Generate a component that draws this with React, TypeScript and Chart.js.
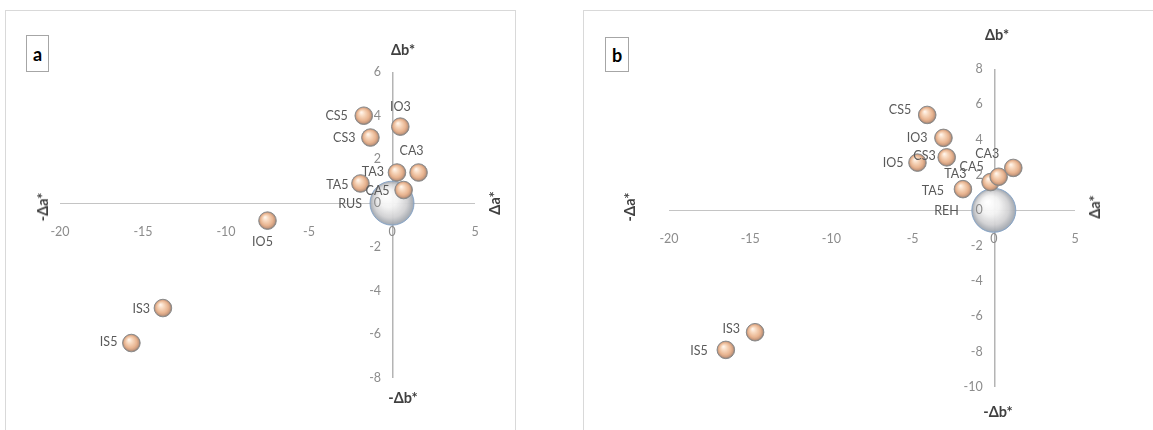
import React, { useEffect, useRef } from "react";
import { Chart, registerables } from "chart.js";
Chart.register(...registerables);

// ---------- DATA ----------
const samplesA = ["CS5", "IO3", "CS3", "TA3", "CA3", "TA5", "CA5", "IO5", "IS3", "IS5"];
const deltaA_a = [-1.7, 0.5, -1.3, 0.3, 1.6, -1.9, 0.7, -7.5, -13.8, -15.7];
const deltaB_a = [4.0, 3.5, 3.0, 1.4, 1.4, 0.9, 0.6, -0.8, -4.8, -6.4];
const referenceA = "RUS";

const samplesB = ["CS5", "IO3", "CS3", "IO5", "TA5", "TA3", "CA5", "CA3", "IS3", "IS5"];
const deltaA_b = [-4.1, -3.1, -2.9, -4.7, -1.9, -0.2, 0.3, 1.2, -14.7, -16.5];
const deltaB_b = [5.4, 4.1, 3.0, 2.7, 1.2, 1.6, 1.9, 2.4, -6.9, -7.9];
const referenceB = "REH";

const xTicks = [-20, -15, -10, -5, 0, 5];
const yTicksA = [-8, -6, -4, -2, 0, 2, 4, 6];
const yTicksB = [-10, -8, -6, -4, -2, 0, 2, 4, 6, 8];

// ---------- STYLE / PLACEMENT ----------
type Place = [number, number, CanvasTextAlign];
const placeA: Record<string, Place> = {
  CS5: [-16, 0, "right"], IO3: [0, -20, "center"], CS3: [-15, 0, "right"],
  TA3: [-13, -1, "right"], CA3: [-7, -22, "center"], TA5: [-12, 1, "right"],
  CA5: [-14, 1, "right"], IO5: [-5, 21, "center"], IS3: [-13, 1, "right"],
  IS5: [-14, -1, "right"], RUS: [-30, 1, "right"],
};
const placeB: Record<string, Place> = {
  CS5: [-16, -5, "right"], IO3: [-16, 0, "right"], CS3: [-11, -1, "right"],
  IO5: [-14, 0, "right"], TA5: [-19, 2, "right"], TA3: [-24, -8, "right"],
  CA5: [-15, -10, "right"], CA3: [-14, -14, "right"], IS3: [-15, -3, "right"],
  IS5: [-18, 1, "right"], REH: [-35, 1, "right"],
};

const FONT = "Lato, 'Open Sans', sans-serif";
const SAMPLE_R = 8.8;
const REF_R = 22;
const AXIS_COLOR = "#c4c4c4";
const VAXIS_COLOR = "#b4b4b4";

function sphere(ctx: any, x: number, y: number, r: number, stops: [number, string][]) {
  const g = ctx.createRadialGradient(x - r * 0.28, y - r * 0.38, r * 0.05, x, y, r);
  stops.forEach(([o, c]) => g.addColorStop(o, c));
  return g;
}

const peachStops: [number, string][] = [
  [0, "#fff4ea"], [0.3, "#f7d7bd"], [0.68, "#e8b490"], [0.86, "#c99b7f"], [1, "#857a74"],
];
const greyStops: [number, string][] = [
  [0, "rgba(255,255,255,0.98)"], [0.4, "rgba(242,242,242,0.96)"], [0.75, "rgba(208,208,210,0.95)"], [0.93, "rgba(170,174,180,0.95)"], [1, "rgba(150,165,182,0.95)"],
];

function gradientFor(stops: [number, string][], fallback: string) {
  return (c: any) => {
    const chart = c.chart;
    const raw = c.raw;
    if (!raw || !chart.chartArea || !chart.scales.x) return fallback;
    const x = chart.scales.x.getPixelForValue(raw.x);
    const y = chart.scales.y.getPixelForValue(raw.y);
    const r = c.dataset.radius;
    return sphere(chart.ctx, x, y, r, stops);
  };
}

interface PanelProps {
  names: string[];
  da: number[];
  db: number[];
  refName: string;
  yTicks: number[];
  place: Record<string, Place>;
  width: number;
  height: number;
  padding: { left: number; right: number; top: number; bottom: number };
  labelGapUnits: number;
}

function Panel(p: PanelProps) {
  const ref = useRef<HTMLCanvasElement>(null);
  useEffect(() => {
    if (!ref.current) return;
    const axesPlugin = {
      id: "crossAxes",
      beforeDatasetsDraw(chart: any) {
        const { ctx, chartArea, scales } = chart;
        const x0 = Math.round(scales.x.getPixelForValue(0));
        const y0 = Math.round(scales.y.getPixelForValue(0));
        ctx.save();
        ctx.fillStyle = AXIS_COLOR;
        ctx.fillRect(chartArea.left, y0, chartArea.right - chartArea.left, 1);
        ctx.fillStyle = VAXIS_COLOR;
        ctx.fillRect(x0, chartArea.top, 1.5, chartArea.bottom - chartArea.top);
        ctx.restore();
      },
    };
    const labelPlugin = {
      id: "pointNames",
      afterDatasetsDraw(chart: any) {
        const ctx = chart.ctx;
        ctx.save();
        ctx.font = `12.5px ${FONT}`;
        ctx.fillStyle = "#595959";
        ctx.textBaseline = "middle";
        chart.data.datasets.forEach((ds: any, di: number) => {
          const meta = chart.getDatasetMeta(di);
          meta.data.forEach((el: any, i: number) => {
            const name = ds.names[i];
            const pl = p.place[name] || [-14, 0, "right"];
            ctx.textAlign = pl[2];
            ctx.fillText(name, el.x + pl[0], el.y + pl[1]);
          });
        });
        ctx.restore();
      },
    };
    const tickFont = { family: FONT, size: 12.5 };
    const chart = new Chart(ref.current, {
      type: "bubble",
      data: {
        datasets: [
          {
            label: "samples",
            names: p.names,
            data: p.names.map((_, i) => ({ x: p.da[i], y: p.db[i] })),
            radius: SAMPLE_R,
            backgroundColor: gradientFor(peachStops, "#eec3a3"),
            borderColor: "#8a8a8a",
            borderWidth: 1,
            clip: false,
          } as any,
          {
            label: "reference",
            names: [p.refName],
            data: [{ x: 0, y: 0 }],
            radius: REF_R,
            backgroundColor: gradientFor(greyStops, "#e0e0e0"),
            borderColor: "rgba(130,160,195,0.9)",
            borderWidth: 1,
            clip: false,
          } as any,
        ],
      },
      options: {
        animation: false,
        responsive: false,
        maintainAspectRatio: false,
        events: [],
        layout: { padding: p.padding },
        plugins: { legend: { display: false }, tooltip: { enabled: false } },
        scales: {
          x: {
            type: "linear",
            position: { y: 0 } as any,
            min: xTicks[0],
            max: xTicks[xTicks.length - 1],
            afterBuildTicks: (s: any) => { s.ticks = xTicks.map((v) => ({ value: v })); },
            afterFit: (s: any) => { s.height = 0; },
            grid: { display: false },
            border: { display: false },
            ticks: { font: tickFont, color: "#8c8c8c", padding: 13, z: 1, maxRotation: 0, autoSkip: false },
          },
          y: {
            type: "linear",
            position: { x: 0 } as any,
            min: p.yTicks[0],
            max: p.yTicks[p.yTicks.length - 1],
            afterFit: (s: any) => { s.width = 0; },
            grid: { display: false },
            border: { display: false },
            ticks: { display: false },
          },
          yLabels: {
            type: "linear",
            axis: "y",
            position: { x: -p.labelGapUnits } as any,
            min: p.yTicks[0],
            max: p.yTicks[p.yTicks.length - 1],
            afterBuildTicks: (s: any) => { s.ticks = p.yTicks.map((v) => ({ value: v })); },
            afterFit: (s: any) => { s.width = 0; },
            grid: { display: false },
            border: { display: false },
            ticks: { font: tickFont, color: "#8c8c8c", z: 1, autoSkip: false },
          } as any,
        },
      } as any,
      plugins: [axesPlugin, labelPlugin],
    });
    return () => chart.destroy();
  }, []);
  return <canvas ref={ref} width={p.width} height={p.height} style={{ width: p.width, height: p.height, display: "block" }} />;
}

const titleStyle: React.CSSProperties = {
  position: "absolute",
  fontFamily: FONT,
  fontWeight: 700,
  fontSize: 14.5,
  color: "#404040",
  whiteSpace: "nowrap",
  lineHeight: "16px",
};

function Title({ text, x, y, rotate }: { text: string; x: number; y: number; rotate?: boolean }) {
  return (
    <div style={{ ...titleStyle, left: x, top: y, transform: `translate(-50%, -50%)${rotate ? " rotate(-90deg)" : ""}` }}>
      {text}
    </div>
  );
}

function LetterBox({ text, x, y, w, h }: { text: string; x: number; y: number; w: number; h: number }) {
  return (
    <div
      style={{
        position: "absolute", left: x, top: y, width: w, height: h, boxSizing: "border-box",
        border: "1px solid #a6a6a6", display: "flex", alignItems: "center", justifyContent: "center",
        fontFamily: FONT, fontWeight: 700, fontSize: 18, color: "#000", background: "#fff",
      }}
    >
      {text}
    </div>
  );
}

export default function App() {
  return (
    <div style={{ position: "absolute", left: 0, top: 0, width: 1153, height: 430, overflow: "hidden", background: "#fff" }}>
      <div style={{ position: "absolute", left: 5, top: 10, width: 511, height: 440, border: "1px solid #d9d9d9", boxSizing: "border-box" }} />
      <div style={{ position: "absolute", left: 583, top: 10, width: 600, height: 440, border: "1px solid #d9d9d9", boxSizing: "border-box" }} />

      <div style={{ position: "absolute", left: 5, top: 10 }}>
        <Panel
          names={samplesA} da={deltaA_a} db={deltaB_a} refName={referenceA} yTicks={yTicksA}
          place={placeA} width={511} height={420}
          padding={{ left: 55, right: 41, top: 62, bottom: 52 }} labelGapUnits={0.66}
        />
      </div>
      <div style={{ position: "absolute", left: 583, top: 10 }}>
        <Panel
          names={samplesB} da={deltaA_b} db={deltaB_b} refName={referenceB} yTicks={yTicksB}
          place={placeB} width={570} height={420}
          padding={{ left: 86, right: 78, top: 59, bottom: 43 }} labelGapUnits={0.68}
        />
      </div>

      <LetterBox text="a" x={26} y={35} w={23} h={37} />
      <LetterBox text="b" x={605} y={37} w={24} h={35} />

      <Title text="Δb*" x={403} y={50} />
      <Title text="-Δb*" x={403} y={398} />
      <Title text="-Δa*" x={43} y={207} rotate />
      <Title text="Δa*" x={495} y={203} rotate />

      <Title text="Δb*" x={997} y={35} />
      <Title text="-Δb*" x={998} y={412} />
      <Title text="-Δa*" x={630} y={207} rotate />
      <Title text="Δa*" x={1095} y={207} rotate />
    </div>
  );
}
